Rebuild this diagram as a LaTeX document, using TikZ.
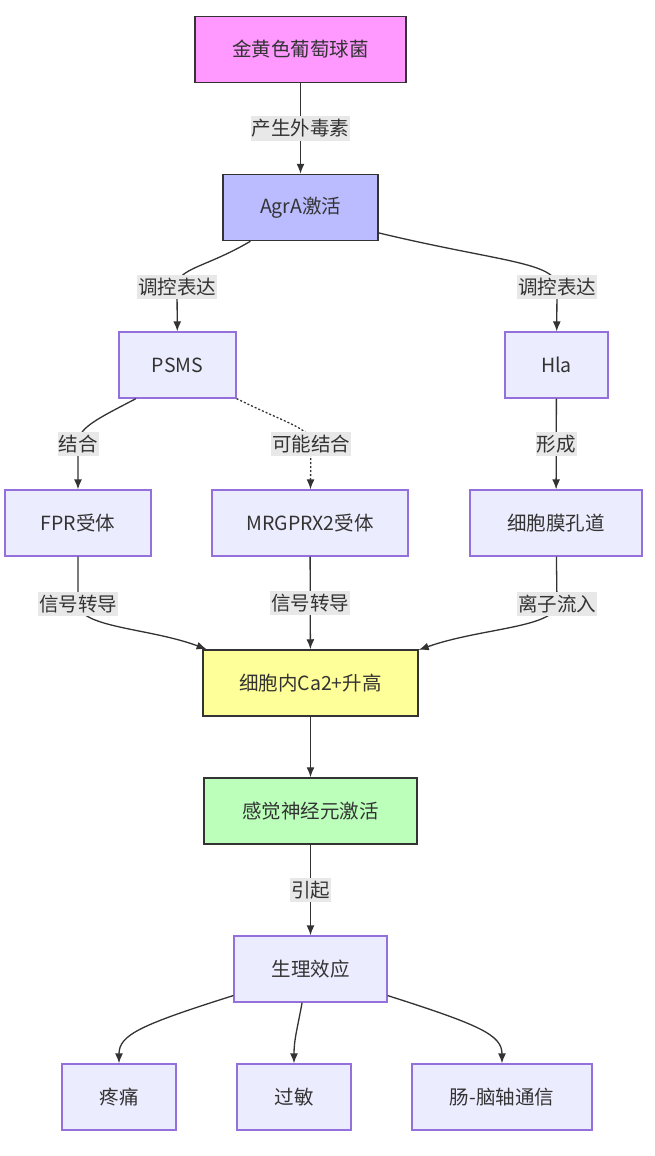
\documentclass[tikz,border=0pt]{standalone}
\usepackage{fontspec}
\newfontfamily\cjk{Noto Sans CJK SC}
\usetikzlibrary{arrows.meta}
\definecolor{ink}{HTML}{333333}
\definecolor{boxline}{HTML}{9370DB}
\definecolor{boxfill}{HTML}{ECECFF}
\definecolor{lblfill}{HTML}{E8E8E8}
\definecolor{pinkfill}{HTML}{FF99FF}
\definecolor{bluefill}{HTML}{BBBBFF}
\definecolor{yellowfill}{HTML}{FFFF99}
\definecolor{greenfill}{HTML}{BBFFBB}

\begin{document}
\begin{tikzpicture}[x=1pt, y=-1pt,
  box/.style={draw=boxline, fill=boxfill, line width=1.3pt, inner sep=0pt,
              minimum height=66pt, text=ink, font=\cjk\fontsize{19.5}{23}\selectfont},
  keybox/.style={box, draw=ink, line width=1.5pt},
  lbl/.style={fill=lblfill, inner xsep=1pt, inner ysep=3pt, text=ink,
              font=\cjk\fontsize{19.5}{23}\selectfont},
  link/.style={draw=ink, line width=1.3pt, -{Latex[length=10pt,width=8pt]}},
  maybe/.style={link, dash pattern=on 2pt off 2pt}]
  \useasboundingbox (0,0) rectangle (654,1156);

  \node[keybox, fill=pinkfill, minimum width=211pt] (sa) at (300.5,49.5) {金黄色葡萄球菌};
  \node[keybox, fill=bluefill, minimum width=155pt] (agra) at (300.5,207.5) {AgrA激活};
  \node[box, minimum width=117pt] (psms) at (177.5,365) {PSMS};
  \node[box, minimum width=103pt] (hla) at (556.5,365) {Hla};
  \node[box, minimum width=146pt] (fpr) at (78,523) {FPR受体};
  \node[box, minimum width=196pt] (mrg) at (310,523) {MRGPRX2受体};
  \node[box, minimum width=172pt] (pore) at (556,523) {细胞膜孔道};
  \node[keybox, fill=yellowfill, minimum width=215pt] (ca) at (310.5,683) {细胞内Ca2+升高};
  \node[keybox, fill=greenfill, minimum width=213pt] (neuron) at (310.5,811) {感觉神经元激活};
  \node[box, minimum width=153pt] (effect) at (310.5,969) {生理效应};
  \node[box, minimum width=114pt] (pain) at (119,1097) {疼痛};
  \node[box, minimum width=114pt] (allergy) at (294,1097) {过敏};
  \node[box, minimum width=180pt] (gut) at (502,1097) {肠-脑轴通信};

  \coordinate (reg1) at (177,287);
  \coordinate (reg2) at (557,287);
  \coordinate (bind1) at (78,444);
  \coordinate (bind2) at (311,444);
  \coordinate (sig1) at (78,604);
  \coordinate (ion) at (557,604);

  \draw[link] (sa) -- node[lbl] {产生外毒素} (agra);
  \draw[link] (agra.214) .. controls (205,268) and (177,268) .. (reg1) node[lbl] {调控表达} -- (psms);
  \draw[link] (agra.-18) .. controls (500,262) and (557,262) .. (reg2) node[lbl] {调控表达} -- (hla);
  \draw[link] (psms.219) .. controls (95,420) and (78,428) .. (bind1) node[lbl] {结合} -- (fpr);
  \draw[maybe] (psms.south east) .. controls (290,425) and (311,428) .. (bind2) node[lbl] {可能结合} -- (mrg);
  \draw[link] (hla) -- node[lbl] {形成} (pore);
  \draw[link] (fpr) -- (sig1) node[lbl] {信号转导} .. controls (80,628) and (150,628) .. (ca.162);
  \draw[link] (mrg) -- node[lbl] {信号转导} (ca);
  \draw[link] (pore) -- (ion) node[lbl] {离子流入} .. controls (555,628) and (480,628) .. (ca.17.5);
  \draw[link] (ca) -- (neuron);
  \draw[link] (neuron) -- node[lbl] {引起} (effect);
  \draw[link] (effect.199) .. controls (140,1025) and (119,1035) .. (pain.north);
  \draw[link] (effect.-104) .. controls (297,1030) and (294,1040) .. (allergy.north);
  \draw[link] (effect.-19) .. controls (480,1025) and (502,1035) .. (gut.north);
\end{tikzpicture}
\end{document}
